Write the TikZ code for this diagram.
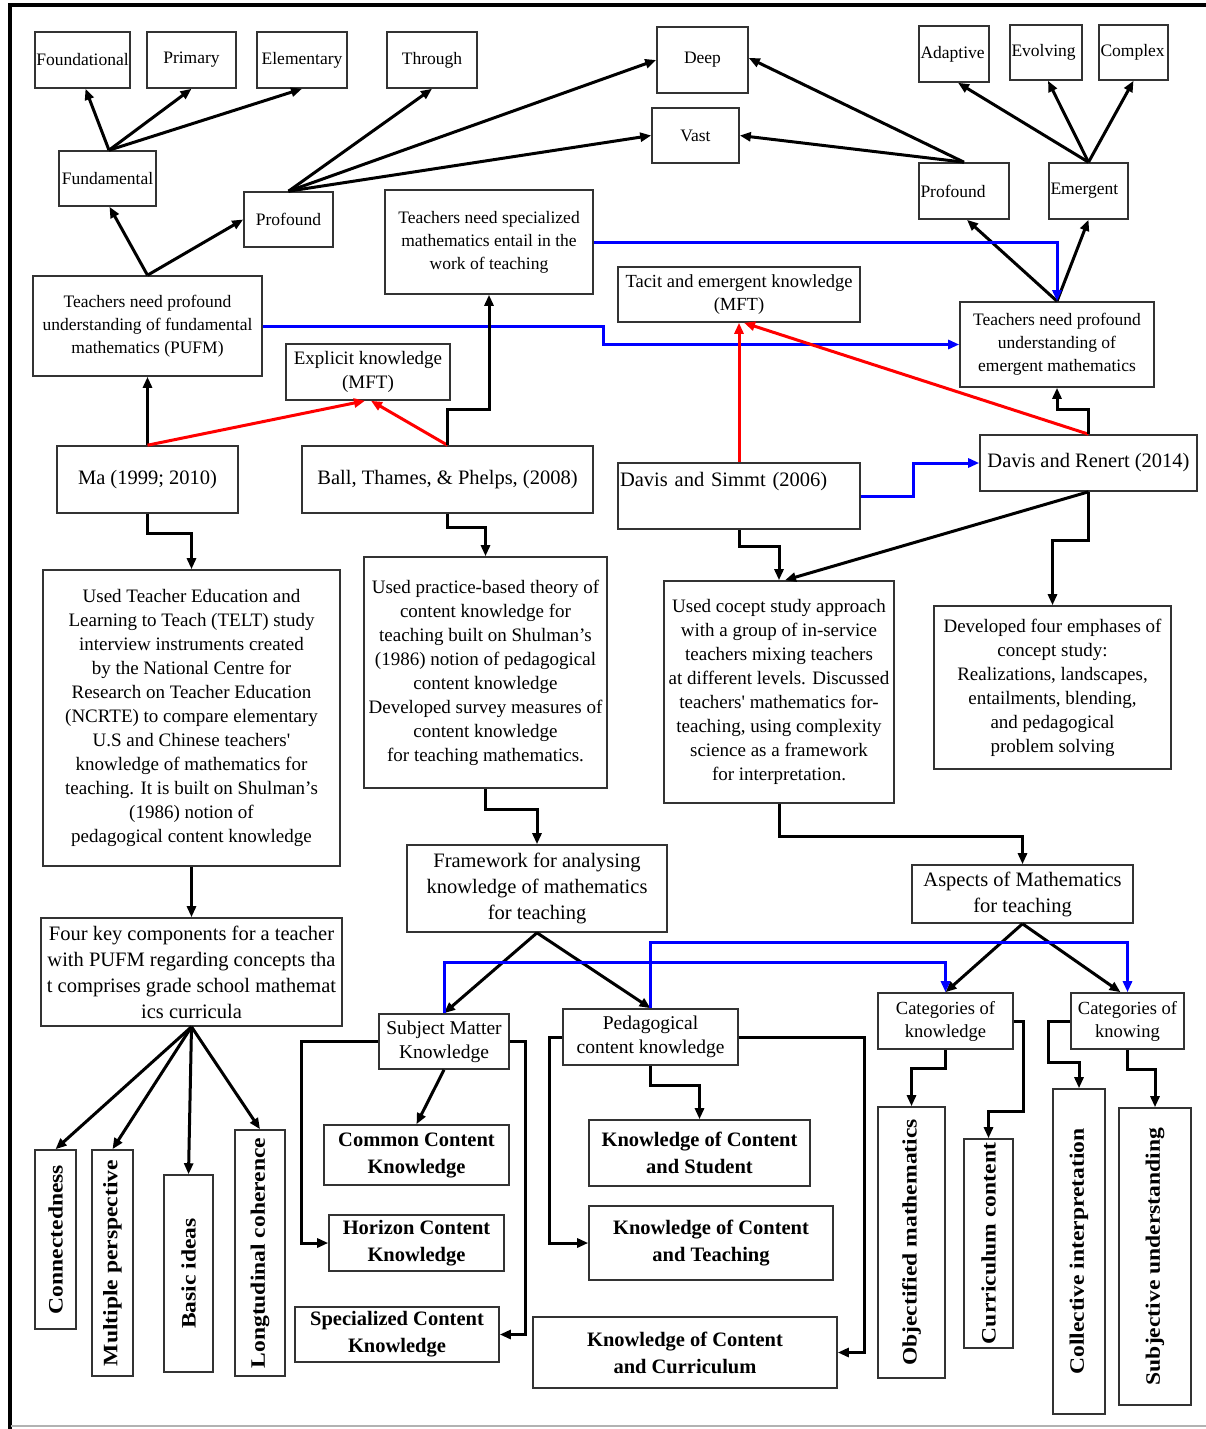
\documentclass[tikz,border=0pt]{standalone}
\usepackage{fontspec}
\setmainfont{Liberation Serif}
\usetikzlibrary{arrows.meta}
\newcommand\bx[7][]{%
  \pgfmathsetmacro\bxw{#5-#3}\pgfmathsetmacro\bxh{#6-#4}%
  \node[box,minimum width=\bxw pt,minimum height=\bxh pt,#1] (#2) at ({(#3+#5)/2},{(#4+#6)/2}) {#7};}
\newcommand\vbx[6]{%
  \pgfmathsetmacro\bxw{#4-#2}\pgfmathsetmacro\bxh{#5-#3}%
  \node[vbox,minimum width=\bxw pt,minimum height=\bxh pt] (#1) at ({(#2+#4)/2},{(#3+#5)/2}) {};
  \node[vtext] (#1t) at (#1.center) {#6};}
\begin{document}
\begin{tikzpicture}[x=1pt,y=-1pt,
  box/.style={draw=black!80,line width=1.6pt,inner sep=1pt,align=center,font=\fontsize{19}{24}\selectfont},
  big/.style={font=\fontsize{20.5}{26}\selectfont},
  mid/.style={font=\fontsize{19.5}{24}\selectfont},
  small/.style={font=\fontsize{17.5}{23}\selectfont},
  cat/.style={font=\fontsize{18.5}{23}\selectfont},
  lefty/.style={align=left,text width=#1,inner xsep=1.5pt},
  bold/.style={font=\fontsize{20.5}{27}\selectfont\bfseries},
  vbox/.style={draw=black!80,line width=1.6pt,inner sep=0pt},
  vtext/.style={rotate=90,xscale=1.15,font=\fontsize{20.5}{24}\selectfont\bfseries},
  tip/.style={-{Triangle[length=11pt,width=9pt]}},
  arr/.style={line width=3pt,tip},
  barr/.style={arr,draw=blue},
  rarr/.style={arr,draw=red},
]
\useasboundingbox (0,0) rectangle (1206,1429);
\fill[white] (0,0) rectangle (1206,1429);
% frame
\draw[line width=4pt] (10,1429) -- (10,5) -- (1206,5);
\draw[black!30,line width=1.5pt] (11,1426) -- (1206,1426);

% top row
\bx[small]{found}{35}{32}{130}{88}{Foundational}
\bx[small]{prim}{147}{32}{236}{88}{Primary}
\bx[small]{elem}{257}{32}{347}{88}{Elementary}
\bx[small]{thro}{387}{32}{477}{88}{Through}
\bx[small]{deep}{657}{27}{748}{93}{Deep}
\bx[small]{vast}{652}{108}{739}{163}{Vast}
\bx[small,lefty=67pt]{adap}{919}{26}{989}{82}{Adaptive}
\bx[small,lefty=69pt]{evol}{1010}{25}{1082}{80}{Evolving}
\bx[small,lefty=66pt]{comp}{1099}{25}{1168}{80}{Complex}
\bx[small]{fund}{59}{151}{156}{206}{Fundamental}
\bx[small]{profL}{244}{192}{333}{247}{Profound}
\bx[small,lefty=87pt]{profR}{919}{163}{1009}{219}{Profound}
\bx[small,lefty=76pt]{emer}{1049}{163}{1128}{219}{Emergent}
\bx[small]{spec}{385}{190}{593}{294}{Teachers need specialized\\mathematics entail in the\\work of teaching}
\bx[small]{pufm}{33}{276}{262}{376}{Teachers need profound\\understanding of fundamental\\mathematics (PUFM)}
\bx[cat]{tacit}{618}{267}{860}{322}{Tacit and emergent knowledge\\(MFT)}
\bx[small]{tnpe}{960}{302}{1154}{387}{Teachers need profound\\understanding of\\emergent mathematics}
\bx{expl}{286}{344}{450}{400}{Explicit knowledge\\(MFT)}

% authors
\bx[big]{ma}{57}{446}{238}{513}{Ma (1999; 2010)}
\bx[big]{ball}{302}{446}{593}{513}{Ball, Thames, \& Phelps, (2008)}
\bx[big,lefty=238pt]{ds}{618}{463}{860}{529}{Davis and Simmt (2006)\\\strut}
\bx[big]{dr}{980}{435}{1197}{491}{Davis and Renert (2014)}

% descriptions
\bx{telt}{43}{570}{340}{866}{Used Teacher Education and\\Learning to Teach (TELT) study\\interview instruments created\\by the National Centre for\\Research on Teacher Education\\(NCRTE) to compare elementary\\U.S and Chinese teachers\textquotesingle\\knowledge of mathematics for\\teaching. It is built on Shulman’s\\(1986) notion of\\pedagogical content knowledge}
\bx{prac}{364}{557}{607}{788}{Used practice-based theory of\\content knowledge for\\teaching built on Shulman’s\\(1986) notion of pedagogical\\content knowledge\\Developed survey measures of\\content knowledge\\for teaching mathematics.}
\bx{coc}{664}{581}{894}{803}{Used cocept study approach\\with a group of in-service\\teachers mixing teachers\\at different levels. Discussed\\teachers\textquotesingle\ mathematics for-\\teaching, using complexity\\science as a framework\\for interpretation.}
\bx{dev}{934}{606}{1171}{769}{Developed four emphases of\\concept study:\\Realizations, landscapes,\\entailments, blending,\\and pedagogical\\problem solving}

% frameworks
\bx[big]{frame}{407}{845}{667}{932}{Framework for analysing\\knowledge of mathematics\\for teaching}
\bx[big]{asp}{912}{865}{1133}{923}{Aspects of Mathematics\\for teaching}
\bx[big]{four}{41}{918}{342}{1026}{Four key components for a teacher\\with PUFM regarding concepts tha\\t comprises grade school mathemat\\ics curricula}
\bx[mid]{smk}{379}{1014}{509}{1069}{Subject Matter\\Knowledge}
\bx[mid]{pck}{563}{1009}{738}{1065}{Pedagogical\\content knowledge}
\bx[cat]{ck}{878}{993}{1013}{1049}{Categories of\\knowledge}
\bx[cat]{ckn}{1071}{993}{1184}{1049}{Categories of\\knowing}

% bold leaves
\bx[bold]{cck}{324}{1125}{509}{1185}{Common Content\\Knowledge}
\bx[bold]{hck}{329}{1215}{504}{1271}{Horizon Content\\Knowledge}
\bx[bold]{sck}{295}{1307}{499}{1362}{Specialized Content\\Knowledge}
\bx[bold]{kcs}{589}{1120}{810}{1186}{Knowledge of Content\\and Student}
\bx[bold]{kct}{589}{1206}{833}{1280}{Knowledge of Content\\and Teaching}
\bx[bold]{kcc}{533}{1317}{837}{1388}{Knowledge of Content\\and Curriculum}

% vertical leaves
\vbx{conn}{35}{1150}{76}{1329}{Connectedness}
\vbx{mult}{92}{1150}{133}{1376}{Multiple perspective}
\vbx{basic}{164}{1175}{213}{1372}{Basic ideas}
\vbx{long}{235}{1130}{285}{1376}{Longtudinal coherence}
\vbx{obj}{878}{1107}{945}{1378}{Objectified mathematics}
\vbx{curr}{964}{1139}{1013}{1348}{Curriculum content}
\vbx{coll}{1053}{1089}{1105}{1414}{Collective interpretation}
\vbx{subj}{1119}{1108}{1191}{1405}{Subjective understanding}

% ---- connectors: top
\draw[arr] ([xshift=1.5pt]fund.north) -- ([xshift=3pt]found.south);
\draw[arr] ([xshift=1.5pt]fund.north) -- (prim.south);
\draw[arr] ([xshift=1.5pt]fund.north) -- (elem.south);
\draw[arr] (profL.north) -- (thro.south);
\draw[arr] (profL.north) -- (deep.west);
\draw[arr] (profL.north) -- (vast.west);
\draw[arr] (pufm.north) -- ([xshift=2pt]fund.south);
\draw[arr] (pufm.north) -- (profL.west);
\draw[arr] (profR.north) -- ([yshift=2pt]deep.east);
\draw[arr] (profR.north) -- (vast.east);
\draw[arr] (emer.north) -- ([xshift=4pt]adap.south);
\draw[arr] (emer.north) -- ([xshift=2pt]evol.south);
\draw[arr] (emer.north) -- (comp.south);
\draw[arr] (tnpe.north) -- ([xshift=3pt]profR.south);
\draw[arr] (tnpe.north) -- (emer.south);
\draw[barr] (spec.east) -| (tnpe.north);
\draw[barr] (pufm.east) -- ++(341,0) |- (tnpe.west);

% authors
\draw[arr] (ma.north) -- (pufm.south);
\draw[rarr] (ma.north) -- ([xshift=-3pt]expl.south);
\draw[rarr] (ball.north) -- ([xshift=3pt]expl.south);
\draw[arr] (ball.north) -- ++(0,-36) -| (spec.south);
\draw[rarr] (ds.north) -- (tacit.south);
\draw[rarr] (dr.north) -- ([xshift=5pt]tacit.south);
\draw[arr] (dr.north) -- ++(0,-25) -| (tnpe.south);
\draw[barr] (ds.east) -- ++(53,0) |- (dr.west);

% descriptions
\draw[arr] (ma.south) -- ++(0,20) -| (telt.north);
\draw[arr] (ball.south) -- ++(0,14) -| (prac.north);
\draw[arr] (ds.south) -- ++(0,17) -| (coc.north);
\draw[arr] (dr.south) -- ([xshift=6pt]coc.north);
\draw[arr] (dr.south) -- ++(0,49) -| (dev.north);
\draw[arr] (prac.south) -- ++(0,21) -| (frame.north);
\draw[arr] (coc.south) -- ++(0,33) -| (asp.north);
\draw[arr] (telt.south) -- (four.north);

% four key
\draw[arr] (four.south) -- (conn.north);
\draw[arr] (four.south) -- (mult.north);
\draw[arr] (four.south) -- (basic.north);
\draw[arr] (four.south) -- (long.north);

% framework
\draw[arr] (frame.south) -- (smk.north);
\draw[arr] (frame.south) -- (pck.north);
\draw[arr] (asp.south) -- (ck.north);
\draw[arr] (asp.south) -- ([xshift=-7pt]ckn.north);
\draw[barr] (smk.north) -- ++(0,-51) -| (ck.north);
\draw[barr] (pck.north) -- ++(0,-66) -| (ckn.north);

% SMK
\draw[arr] (smk.south) -- (cck.north);
\draw[arr] (smk.west) -- ++(-77,0) |- (hck.west);
\draw[arr] (smk.east) -- ++(16,0) |- (sck.east);
% PCK
\draw[arr] (pck.south) -- ++(0,20) -| (kcs.north);
\draw[arr] (pck.west) -- ++(-13,0) |- (kct.west);
\draw[arr] (pck.east) -- ++(126,0) |- (kcc.east);
% categories
\draw[arr] (ck.south) -- ++(0,19) -| (obj.north);
\draw[arr] (ck.east) -- ++(10,0) -- ++(0,90) -| (curr.north);
\draw[arr] (ckn.west) -- ++(-22,0) -- ++(0,41) -| (coll.north);
\draw[arr] (ckn.south) -- ++(0,20) -| (subj.north);
\end{tikzpicture}
\end{document}
